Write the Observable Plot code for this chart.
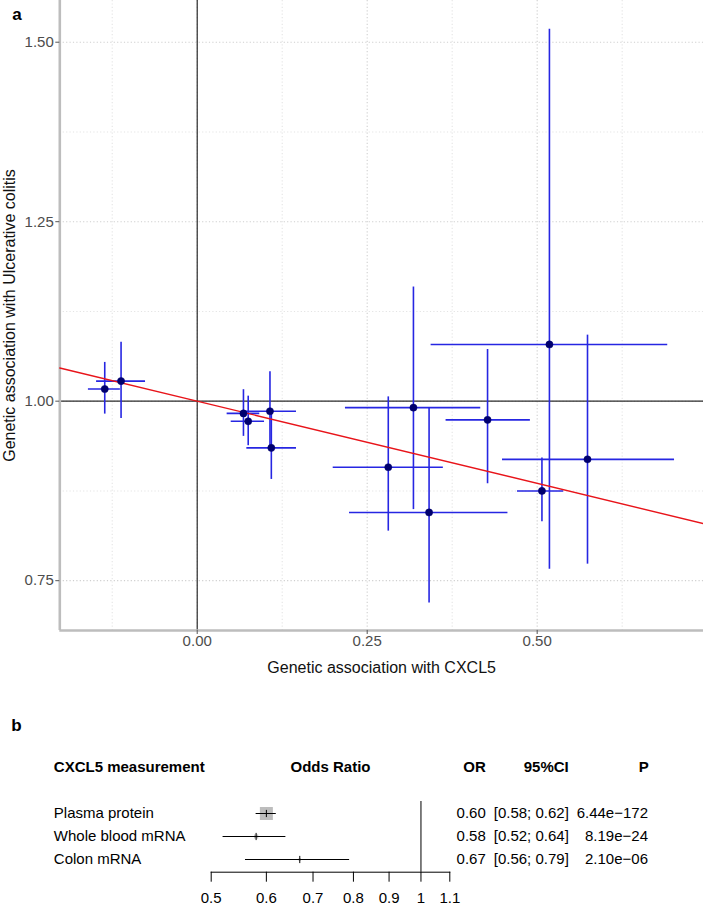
<!DOCTYPE html>
<html><head><meta charset="utf-8">
<script src="https://cdn.jsdelivr.net/npm/d3@7"></script>
<script src="https://cdn.jsdelivr.net/npm/@observablehq/plot@0.6"></script>
<style>
body{margin:0;background:#fff;}
#chart{position:relative;width:703px;height:905px;overflow:hidden;font-family:"Liberation Sans",Arial,sans-serif;}
#chart svg{display:block;}
</style></head><body><div id="chart"></div>
<script>
// ---- Panel a: per-variant genetic associations ----
const betaExposure = [-0.136, -0.112, 0.068, 0.075, 0.107, 0.109, 0.281, 0.318, 0.341, 0.427, 0.518, 0.574, 0.507];
const betaExpLow   = [-0.160, -0.148, 0.044, 0.050, 0.068, 0.073, 0.200, 0.218, 0.224, 0.366, 0.344, 0.449, 0.471];
const betaExpHigh  = [-0.113, -0.076, 0.092, 0.099, 0.146, 0.146, 0.362, 0.417, 0.457, 0.490, 0.692, 0.702, 0.539];
const orOutcome    = [1.017, 1.028, 0.983, 0.972, 0.986, 0.935, 0.908, 0.991, 0.845, 0.974, 1.079, 0.919, 0.875];
const orOutLow     = [0.982, 0.976, 0.951, 0.938, 0.934, 0.891, 0.819, 0.849, 0.719, 0.885, 0.766, 0.773, 0.832];
const orOutHigh    = [1.054, 1.082, 1.016, 1.007, 1.041, 0.982, 1.006, 1.159, 0.991, 1.072, 1.518, 1.092, 0.921];
const ivwSlope = -0.229;   // fitted line through (0, 1)
const xTicks = [0, 0.25, 0.5];
const xMinor = [-0.125, 0.125, 0.375, 0.625];
const yTicks = [0.75, 1.0, 1.25, 1.5];
const yMinor = [0.875, 1.125, 1.375];

// ---- Panel b: forest plot ----
const measurement = ["Plasma protein", "Whole blood mRNA", "Colon mRNA"];
const oddsRatio = [0.60, 0.58, 0.67];
const ciLow = [0.58, 0.52, 0.56];
const ciHigh = [0.62, 0.64, 0.79];
const weight = [0.878, 0.090, 0.033];
const orText = ["0.60", "0.58", "0.67"];
const ciText = ["[0.58; 0.62]", "[0.52; 0.64]", "[0.56; 0.79]"];
const pText = ["6.44e\u2212172", "8.19e\u221224", "2.10e\u221206"];
const forestTicks = [0.5, 0.6, 0.7, 0.8, 0.9, 1, 1.1];
const headers = ["CXCL5 measurement", "Odds Ratio", "OR", "95%CI", "P"];

const FONT = "Liberation Sans, Arial, sans-serif";
const snps = betaExposure.map((x, i) => ({x, xlo: betaExpLow[i], xhi: betaExpHigh[i], y: orOutcome[i], ylo: orOutLow[i], yhi: orOutHigh[i]}));
const xDom = [-0.2021, 0.7446], yDom = [0.6806, 1.5581];
const fit = xDom.map(x => ({x, y: 1 + ivwSlope * x}));
const blue = "#2626e2";
const dotted = {strokeDasharray: "1.2,2.2", strokeWidth: 1.1};

const plotA = Plot.plot({
  width: 703, height: 700,
  marginLeft: 59.3, marginRight: 0, marginTop: 0, marginBottom: 70,
  style: {fontFamily: FONT, background: "transparent", overflow: "visible"},
  x: {domain: xDom},
  y: {domain: yDom},
  marks: [
    Plot.ruleX(xMinor, {stroke: "#e4e4e4", ...dotted}),
    Plot.ruleY(yMinor, {stroke: "#e4e4e4", ...dotted}),
    Plot.ruleX(xTicks, {stroke: "#cfcfcf", ...dotted}),
    Plot.ruleY(yTicks, {stroke: "#cfcfcf", ...dotted}),
    Plot.ruleX([0], {stroke: "#2b2b2b", strokeWidth: 1.2}),
    Plot.ruleY([1], {stroke: "#2b2b2b", strokeWidth: 1.2}),
    Plot.ruleX([xDom[0]], {stroke: "#bdbdbd", strokeWidth: 2.6}),
    Plot.ruleY([yDom[0]], {stroke: "#bdbdbd", strokeWidth: 2.6}),
    Plot.axisX({ticks: xTicks, tickFormat: d3.format(".2f"), tickSize: 4, tickPadding: 1, fontSize: 15, stroke: "#555", fill: "#4d4d4d", label: null}),
    Plot.axisY({ticks: yTicks, tickFormat: d3.format(".2f"), tickSize: 4, tickPadding: 2, fontSize: 15, stroke: "#555", fill: "#4d4d4d", label: null}),
    Plot.ruleY(snps, {y: "y", x1: "xlo", x2: "xhi", stroke: blue, strokeWidth: 1.6}),
    Plot.ruleX(snps, {x: "x", y1: "ylo", y2: "yhi", stroke: blue, strokeWidth: 1.6}),
    Plot.line(fit, {x: "x", y: "y", stroke: "#e8141a", strokeWidth: 1.4}),
    Plot.dot(snps, {x: "x", y: "y", r: 3.6, fill: "#00006e", stroke: "#00006e", strokeWidth: 0.5}),
    Plot.text(["Genetic association with CXCL5"], {frameAnchor: "bottom", dy: 37.5, fontSize: 16, fill: "#111", textAnchor: "middle", lineAnchor: "middle"}),
    Plot.text(["Genetic association with Ulcerative colitis"], {frameAnchor: "left", dx: -50, rotate: -90, fontSize: 16, fill: "#111", textAnchor: "middle", lineAnchor: "middle"}),
    Plot.text(["a"], {frameAnchor: "top-left", dx: -42.8, dy: 14, fontSize: 17, fontWeight: "bold", fill: "#000", textAnchor: "middle", lineAnchor: "middle"})
  ]
});

const forest = measurement.map((m, i) => ({label: m, or: oddsRatio[i], lo: ciLow[i], hi: ciHigh[i], w: weight[i], orT: orText[i], ciT: ciText[i], pT: pText[i]}));
const rows = ["header", "gap", ...measurement];
const vline = {draw(ctx, size) { const h = Math.sqrt(size / Math.PI); ctx.moveTo(0, -h); ctx.lineTo(0, h); }};
const hdr = (i) => [{row: "header", t: headers[i]}];
const bold = {fontSize: 15, fontWeight: "bold", fill: "#000", lineAnchor: "middle"};
const reg = {fontSize: 15, fill: "#000", lineAnchor: "middle"};

const plotB = Plot.plot({
  width: 703, height: 205,
  marginLeft: 210.7, marginRight: 253.7, marginTop: 66, marginBottom: 33.3,
  style: {fontFamily: FONT, background: "transparent", overflow: "visible"},
  x: {type: "log", domain: [0.5, 1.1]},
  y: {type: "point", domain: rows, padding: 0, insetBottom: 11.7, axis: null},
  r: {range: [0, 7.33]},
  marks: [
    Plot.frame({anchor: "bottom", stroke: "#000"}),
    Plot.ruleX([1], {insetTop: 35, stroke: "#000"}),
    Plot.axisX({ticks: forestTicks, tickFormat: d => String(d), tickSize: 10, tickPadding: 10.5, fontSize: 15, stroke: "#000", fill: "#000", label: null}),
    Plot.dot(forest, {x: "or", y: "label", r: "w", symbol: "square", fill: "#bdbdbd", stroke: "none"}),
    Plot.ruleY(forest, {y: "label", x1: "lo", x2: "hi", stroke: "#000", strokeWidth: 1}),
    Plot.dot(forest, {x: "or", y: "label", r: 3.6, symbol: vline, fill: "none", stroke: "#000", strokeWidth: 1}),
    Plot.text(forest, {y: "label", text: "label", frameAnchor: "left", dx: -157.4, textAnchor: "start", ...reg}),
    Plot.text(forest, {y: "label", text: "orT", frameAnchor: "right", dx: 36, textAnchor: "end", ...reg}),
    Plot.text(forest, {y: "label", text: "ciT", frameAnchor: "right", dx: 119, textAnchor: "end", ...reg}),
    Plot.text(forest, {y: "label", text: "pT", frameAnchor: "right", dx: 198.2, textAnchor: "end", ...reg}),
    Plot.text(hdr(0), {y: "row", text: "t", frameAnchor: "left", dx: -157.4, textAnchor: "start", ...bold}),
    Plot.text(hdr(1), {y: "row", text: "t", textAnchor: "middle", ...bold}),
    Plot.text(hdr(2), {y: "row", text: "t", frameAnchor: "right", dx: 36, textAnchor: "end", ...bold}),
    Plot.text(hdr(3), {y: "row", text: "t", frameAnchor: "right", dx: 119, textAnchor: "end", ...bold}),
    Plot.text(hdr(4), {y: "row", text: "t", frameAnchor: "right", dx: 199, textAnchor: "end", ...bold}),
    Plot.text(["b"], {frameAnchor: "top-left", dx: -194.7, dy: -41.2, fontSize: 17, fontWeight: "bold", fill: "#000", textAnchor: "middle", lineAnchor: "middle"})
  ]
});

const chart = document.getElementById("chart");
chart.appendChild(plotA);
chart.appendChild(plotB);
</script>
</body></html>
